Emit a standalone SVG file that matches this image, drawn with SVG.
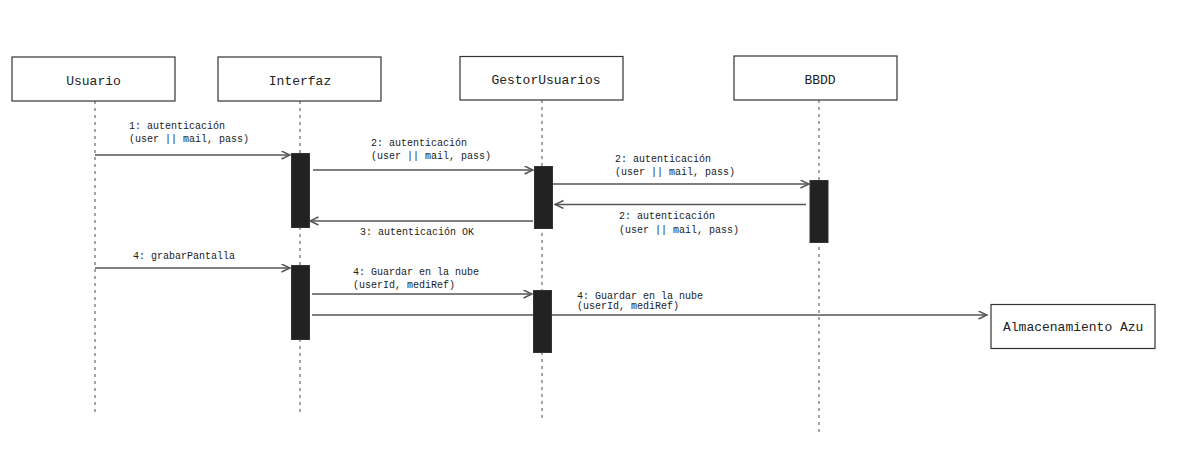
<svg xmlns="http://www.w3.org/2000/svg" width="1177" height="475" viewBox="0 0 1177 475">
<style>
.box{fill:#fff;stroke:#333;stroke-width:1.2}
.act{fill:#222;stroke:#333;stroke-width:1}
.life{stroke:#888;stroke-width:1.5;stroke-dasharray:3 4;fill:none}
.msg{stroke:#555;stroke-width:1.4;fill:none}
.name{font-family:"Liberation Mono","DejaVu Sans Mono",monospace;font-size:13px;fill:#222;text-anchor:middle}
.lbl{font-family:"Liberation Mono","DejaVu Sans Mono",monospace;font-size:10px;fill:#222}
</style>
<defs>
<marker id="open" markerUnits="userSpaceOnUse" markerWidth="12" markerHeight="12" refX="9" refY="4.5" orient="auto">
<path d="M0.5,0.5 L9,4.5 L0.5,8.5" fill="none" stroke="#555" stroke-width="1.4"/>
</marker>
</defs>
<rect width="1177" height="475" fill="#fff"/>
<g id="lifelines">
<line class="life" x1="95" y1="101" x2="95" y2="416"/>
<line class="life" x1="300" y1="101" x2="300" y2="416"/>
<line class="life" x1="542" y1="100" x2="542" y2="420"/>
<line class="life" x1="819" y1="100" x2="819" y2="433"/>
</g>
<g id="node-usuario">
<rect class="box" x="12" y="57" width="163" height="44"/>
<text class="name" x="93.5" y="85">Usuario</text>
</g>
<g id="node-interfaz">
<rect class="box" x="218" y="57" width="163" height="44"/>
<text class="name" x="300" y="85">Interfaz</text>
</g>
<g id="node-gestor">
<rect class="box" x="460" y="56.5" width="163" height="43.5"/>
<text class="name" x="546" y="84">GestorUsuarios</text>
</g>
<g id="node-bbdd">
<rect class="box" x="734" y="56" width="163" height="44"/>
<text class="name" x="820" y="84">BBDD</text>
</g>
<g id="node-almacenamiento">
<rect class="box" x="991" y="304.5" width="164" height="44"/>
<text class="name" x="1003" y="331" style="text-anchor:start">Almacenamiento Azu</text>
</g>
<g id="connectors">
<line class="msg" x1="95" y1="155" x2="290" y2="155" marker-end="url(#open)"/>
<line class="msg" x1="313" y1="170" x2="533" y2="170" marker-end="url(#open)"/>
<line class="msg" x1="552" y1="184" x2="809" y2="184" marker-end="url(#open)"/>
<line class="msg" x1="806" y1="204.5" x2="555" y2="204.5" marker-end="url(#open)"/>
<line class="msg" x1="533" y1="221" x2="310" y2="221" marker-end="url(#open)"/>
<line class="msg" x1="95" y1="268" x2="290" y2="268" marker-end="url(#open)"/>
<line class="msg" x1="312" y1="294" x2="532" y2="294" marker-end="url(#open)"/>
<line class="msg" x1="312" y1="315" x2="987" y2="315" marker-end="url(#open)"/>
<text class="lbl" x="129" y="129">1: autenticación</text>
<text class="lbl" x="129" y="142">(user || mail, pass)</text>
<text class="lbl" x="371" y="146">2: autenticación</text>
<text class="lbl" x="371" y="159">(user || mail, pass)</text>
<text class="lbl" x="615" y="162">2: autenticación</text>
<text class="lbl" x="615" y="175">(user || mail, pass)</text>
<text class="lbl" x="619" y="219">2: autenticación</text>
<text class="lbl" x="619" y="233">(user || mail, pass)</text>
<text class="lbl" x="360" y="235">3: autenticación OK</text>
<text class="lbl" x="133" y="258.5">4: grabarPantalla</text>
<text class="lbl" x="353" y="275">4: Guardar en la nube</text>
<text class="lbl" x="353" y="288">(userId, mediRef)</text>
<text class="lbl" x="577" y="298.5">4: Guardar en la nube</text>
<text class="lbl" x="577" y="309">(userId, mediRef)</text>
</g>
<g id="activations">
<rect class="act" x="291.5" y="153.5" width="18" height="74"/>
<rect class="act" x="534.5" y="166.5" width="18" height="62"/>
<rect class="act" x="810" y="180.5" width="18" height="62"/>
<rect class="act" x="291.5" y="265.5" width="18" height="74"/>
<rect class="act" x="533.5" y="290.5" width="18" height="62"/>
</g>
</svg>
